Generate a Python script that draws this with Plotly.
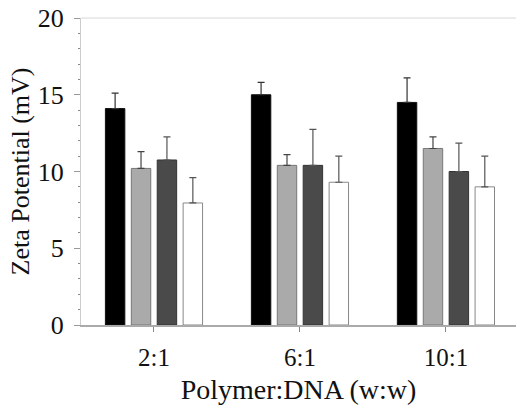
import plotly.graph_objects as go

categories = ["2:1", "6:1", "10:1"]
series_names = ["Series 1", "Series 2", "Series 3", "Series 4"]
values = [
    [14.1, 15.0, 14.5],
    [10.2, 10.4, 11.5],
    [10.75, 10.4, 10.0],
    [7.95, 9.3, 9.0],
]
errors = [
    [1.0, 0.8, 1.6],
    [1.1, 0.7, 0.75],
    [1.5, 2.35, 1.85],
    [1.65, 1.7, 2.0],
]
fill_colors = ["#000000", "#aaaaaa", "#4a4a4a", "#ffffff"]
line_colors = ["#111111", "#777777", "#333333", "#888888"]
err_colors = ["#333333", "#444444", "#555555", "#555555"]
y_ticks = [0, 5, 10, 15, 20]

font_family = "Liberation Serif, Times New Roman, serif"

fig = go.Figure()
for name, vals, errs, fc, lc, ec in zip(series_names, values, errors, fill_colors, line_colors, err_colors):
    fig.add_trace(go.Bar(
        x=categories, y=vals, name=name,
        marker=dict(color=fc, line=dict(color=lc, width=1)),
        error_y=dict(type="data", array=errs, symmetric=False, arrayminus=[0]*len(errs),
                     color=ec, thickness=1.2, width=3.5),
    ))

fig.update_layout(
    width=516, height=411,
    margin=dict(l=81, r=0, t=18, b=86, autoexpand=False),
    paper_bgcolor="white", plot_bgcolor="white",
    barmode="group", bargap=0.29, bargroupgap=0.25,
    showlegend=False,
    font=dict(family=font_family, color="#111111"),
    xaxis=dict(
        range=[-0.5, 2.48],
        automargin=False,
        showline=True, linecolor="#aaaaaa", linewidth=1.5,
        ticks="outside", ticklen=5, tickcolor="#888888",
        tickfont=dict(size=25, family=font_family, color="#111111"),
        ticklabelstandoff=4,
        showgrid=False, zeroline=False,
        title=dict(text="Polymer:DNA (w:w)", font=dict(size=28, family=font_family, color="#111111"), standoff=10),
    ),
    yaxis=dict(
        range=[0, 20],
        automargin=False,
        tickvals=y_ticks,
        ticklabeloverflow="allow",
        showline=True, linecolor="#cccccc", linewidth=1,
        ticks="outside", ticklen=6, tickcolor="#999999",
        tickfont=dict(size=26, family=font_family, color="#111111"),
        ticklabelstandoff=5,
        minor=dict(dtick=1, ticks="outside", ticklen=2, tickcolor="#888888"),
        showgrid=False, zeroline=False,
        title=dict(text="Zeta Potential (mV)", font=dict(size=26, family=font_family, color="#111111"), standoff=0),
    ),
)

fig.add_shape(type="line", xref="paper", yref="paper", x0=0, x1=1, y0=1, y1=1,
              line=dict(color="#d8d8d8", width=1))

fig.write_html("out.html", config={"displayModeBar": False},
               post_script="document.body.style.margin='0';")
